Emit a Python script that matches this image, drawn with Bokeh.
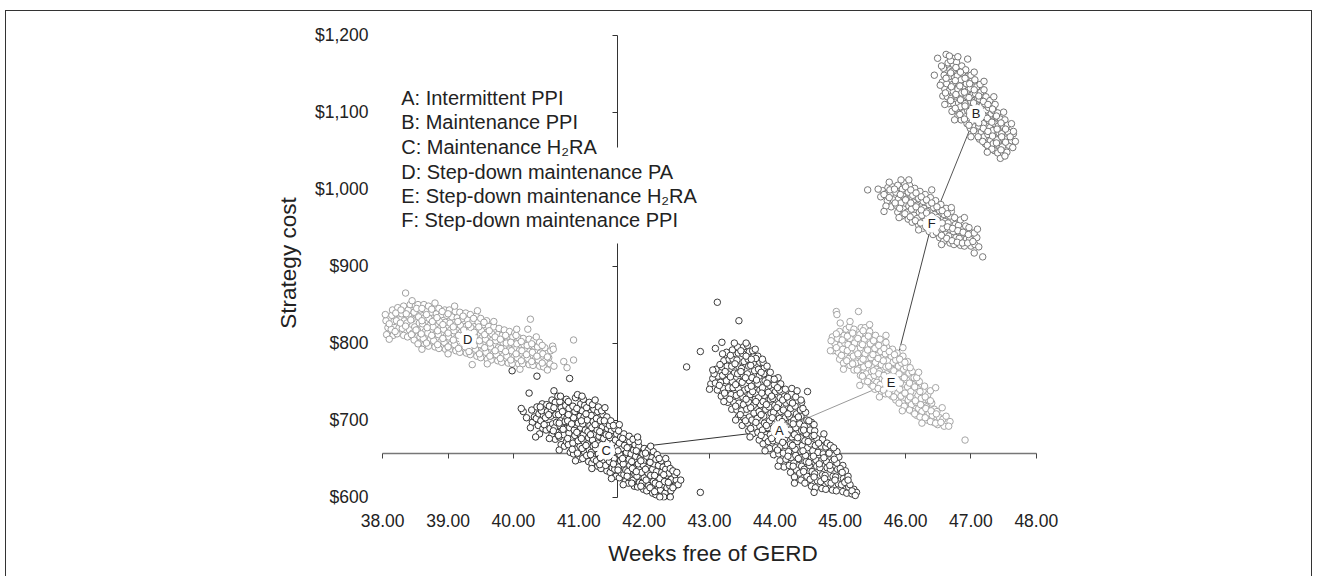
from bokeh.plotting import figure
from bokeh.models import (LinearAxis, FixedTicker, NumeralTickFormatter, Range1d, Label,
                          BoxAnnotation, CustomLabelingPolicy)
from bokeh.embed import file_html
from bokeh.resources import INLINE
from bokeh.core.properties import value

FONT = "Liberation Sans"

# ---------------- data ----------------
x_ticks = [38, 39, 40, 41, 42, 43, 44, 45, 46, 47, 48]
y_ticks = [600, 700, 800, 900, 1000, 1100, 1200]

legend_lines = ["A: Intermittent PPI", "B: Maintenance PPI", "C: Maintenance H\u2082RA",
                "D: Step-down maintenance PA", "E: Step-down maintenance H\u2082RA",
                "F: Step-down maintenance PPI"]

label_names = ["A", "B", "C", "D", "E", "F"]
label_x = [44.07, 47.08, 41.42, 39.30, 45.78, 46.40]
label_y = [687, 1098, 660, 805, 749, 955]

frontier = ["C", "A", "E", "F", "B"]

C_points = [
(40.29,697),(40.32,704),(40.28,713),
(40.38,693),(40.35,702),(40.39,708),(40.36,717),
(40.45,689),(40.42,699),(40.46,706),(40.43,712),(40.44,721),
(40.50,687),(40.53,693),(40.49,703),(40.52,711),(40.51,720),
(40.59,681),(40.56,689),(40.60,695),(40.57,705),(40.58,713),(40.55,718),(40.59,726),
(40.64,675),(40.67,684),(40.63,690),(40.66,697),(40.65,707),(40.68,714),(40.64,723),
(40.73,668),(40.70,678),(40.74,684),(40.71,693),(40.72,699),(40.69,707),(40.73,716),(40.71,724),
(40.78,666),(40.81,672),(40.77,681),(40.80,689),(40.79,698),(40.82,703),(40.78,712),(40.80,719),(40.81,727),
(40.87,658),(40.84,668),(40.88,675),(40.85,683),(40.86,690),(40.83,699),(40.87,709),(40.85,715),(40.84,724),
(40.92,656),(40.95,662),(40.91,670),(40.94,680),(40.93,687),(40.96,694),(40.92,703),(40.94,711),(40.91,718),(40.95,729),
(41.01,649),(40.98,657),(41.02,666),(40.99,673),(41.01,682),(41.03,690),(40.99,696),(41.02,705),(41.00,714),(41.03,721),
(41.06,650),(41.09,658),(41.05,663),(41.08,672),(41.07,681),(41.10,687),(41.06,695),(41.08,704),(41.05,712),(41.09,719),(41.07,727),
(41.15,646),(41.12,654),(41.16,661),(41.13,669),(41.15,677),(41.14,685),(41.17,693),(41.13,700),(41.15,710),(41.12,716),(41.16,723),
(41.20,644),(41.23,649),(41.19,658),(41.22,666),(41.21,674),(41.24,682),(41.20,690),(41.22,698),(41.19,706),(41.23,714),(41.21,720),
(41.29,640),(41.27,647),(41.30,656),(41.26,663),(41.29,670),(41.31,679),(41.28,687),(41.30,695),(41.27,702),(41.29,711),(41.30,717),
(41.34,637),(41.37,645),(41.33,651),(41.36,660),(41.35,668),(41.38,676),(41.34,684),(41.36,691),(41.33,699),(41.37,707),(41.35,712),
(41.43,634),(41.41,641),(41.44,649),(41.40,657),(41.43,664),(41.45,672),(41.42,681),(41.44,689),(41.41,696),(41.43,704),
(41.48,632),(41.51,638),(41.47,646),(41.50,655),(41.49,662),(41.52,670),(41.48,677),(41.50,686),(41.47,693),(41.49,699),
(41.57,627),(41.55,636),(41.58,642),(41.54,650),(41.57,659),(41.59,665),(41.56,674),(41.58,682),(41.55,689),
(41.62,625),(41.65,631),(41.61,639),(41.64,647),(41.63,655),(41.66,663),(41.62,670),(41.64,678),(41.61,686),
(41.71,620),(41.69,629),(41.72,635),(41.68,643),(41.71,652),(41.73,658),(41.70,667),(41.72,675),(41.69,682),
(41.76,618),(41.79,625),(41.75,633),(41.78,641),(41.77,649),(41.80,656),(41.76,665),(41.78,672),(41.77,679),
(41.85,614),(41.83,622),(41.86,629),(41.82,637),(41.85,646),(41.87,653),(41.84,661),(41.86,668),(41.83,675),
(41.90,613),(41.93,619),(41.89,627),(41.92,636),(41.91,643),(41.94,650),(41.90,659),(41.92,666),(41.91,672),
(41.99,610),(41.97,618),(42.00,625),(41.96,632),(41.99,641),(42.01,648),(41.98,656),(42.00,663),
(42.04,608),(42.07,615),(42.03,622),(42.06,631),(42.05,638),(42.08,646),(42.04,653),(42.06,661),
(42.13,605),(42.11,613),(42.14,620),(42.10,628),(42.13,636),(42.15,643),(42.12,651),(42.14,659),
(42.18,603),(42.21,610),(42.17,618),(42.20,626),(42.19,633),(42.22,641),(42.18,649),(42.20,655),
(42.27,602),(42.25,609),(42.28,616),(42.24,624),(42.27,632),(42.29,639),(42.26,647),
(42.32,605),(42.35,612),(42.31,620),(42.34,628),(42.33,636),(42.36,643),
(42.41,608),(42.39,615),(42.42,623),(42.38,631),(42.40,637),
(42.46,614),(42.49,622),(42.47,629),
(40.41,717),(40.47,694),(40.54,707),(40.61,686),(40.62,716),(40.69,680),(40.70,696),(40.75,711),
(40.76,688),(40.83,676),(40.84,707),(40.89,695),(40.90,662),(40.97,684),(40.97,715),(41.04,676),
(41.04,699),(41.11,667),(41.11,708),(41.18,681),(41.18,655),(41.25,694),(41.25,668),(41.32,642),
(41.32,685),(41.39,664),(41.39,699),(41.46,652),(41.46,680),(41.53,643),(41.53,693),(41.60,660),
(41.60,635),(41.67,676),(41.67,650),(41.74,627),(41.74,664),(41.81,646),(41.81,618),(41.88,660),
(41.88,633),(41.95,614),(41.95,647),(42.02,636),(42.02,657),(42.09,612),(42.09,645),(42.16,628),
(42.16,607),(42.23,616),(42.23,650),(42.30,629),(42.37,619),(42.44,634),
(40.20,703),(40.26,690),(40.40,682),(40.55,676),(40.68,731),(40.98,733),(41.25,726),(41.40,716),
(41.62,694),(41.90,678),(42.10,666),(42.33,650),(42.52,616),(42.30,600),(41.68,616),(41.50,624),
(41.20,637),(40.95,647),(40.70,661),
(40.15,711),(40.12,715),(40.24,735),(40.34,678),(39.98,764),(40.36,757),(40.86,754),
(40.62,738),(40.72,731),(41.05,731),(42.86,606),(42.40,600),(42.50,632),(42.44,612),
(42.24,600),(42.56,622)
]

A_points = [
(43.02,747),(43.05,754),
(43.12,739),(43.09,748),(43.13,757),(43.10,766),
(43.18,731),(43.21,741),(43.17,749),(43.20,758),(43.19,769),(43.22,777),
(43.28,723),(43.25,732),(43.29,742),(43.26,751),(43.28,760),(43.27,770),(43.30,779),(43.26,788),
(43.34,714),(43.37,723),(43.33,733),(43.36,742),(43.35,750),(43.38,761),(43.34,770),(43.36,779),(43.35,791),
(43.44,704),(43.42,713),(43.45,722),(43.41,732),(43.44,741),(43.46,750),(43.43,760),(43.45,769),(43.42,778),(43.44,787),(43.43,795),
(43.50,693),(43.53,702),(43.49,712),(43.52,720),(43.51,730),(43.54,739),(43.50,749),(43.52,758),(43.49,767),(43.53,776),(43.51,786),(43.52,795),
(43.60,686),(43.58,696),(43.61,704),(43.57,714),(43.60,723),(43.62,733),(43.59,741),(43.61,751),(43.58,760),(43.60,770),(43.59,779),(43.61,789),(43.58,797),
(43.66,682),(43.69,691),(43.65,700),(43.68,709),(43.67,719),(43.70,727),(43.66,737),(43.68,746),(43.65,755),(43.69,764),(43.67,774),(43.68,783),(43.66,790),
(43.76,674),(43.74,684),(43.77,692),(43.73,702),(43.76,711),(43.78,720),(43.75,729),(43.77,739),(43.74,747),(43.76,757),(43.75,766),(43.77,775),(43.74,783),
(43.82,669),(43.85,677),(43.81,687),(43.84,696),(43.83,705),(43.86,714),(43.82,724),(43.84,732),(43.81,742),(43.85,751),(43.83,760),(43.84,768),(43.82,775),
(43.92,663),(43.90,672),(43.93,681),(43.89,690),(43.92,699),(43.94,709),(43.91,717),(43.93,727),(43.90,736),(43.92,745),(43.91,754),(43.93,762),
(43.98,655),(44.01,664),(43.97,673),(44.00,683),(43.99,691),(44.02,701),(43.98,710),(44.00,719),(43.97,728),(44.01,737),(43.99,746),(44.00,753),
(44.08,647),(44.06,656),(44.09,666),(44.05,674),(44.08,684),(44.10,693),(44.07,702),(44.09,711),(44.06,721),(44.08,729),(44.07,739),(44.09,747),
(44.14,639),(44.17,649),(44.13,657),(44.16,667),(44.15,676),(44.18,685),(44.14,695),(44.16,703),(44.13,713),(44.17,722),(44.15,731),(44.16,740),
(44.24,632),(44.22,641),(44.25,651),(44.21,659),(44.24,669),(44.26,678),(44.23,687),(44.25,697),(44.22,705),(44.24,715),(44.23,724),(44.25,734),
(44.30,626),(44.33,635),(44.29,644),(44.32,654),(44.31,662),(44.34,672),(44.30,681),(44.32,690),(44.29,700),(44.33,708),(44.31,718),(44.32,730),
(44.40,622),(44.38,631),(44.41,640),(44.37,649),(44.40,659),(44.42,667),(44.39,677),(44.41,686),(44.38,695),(44.40,705),(44.39,713),(44.41,723),
(44.46,618),(44.49,627),(44.45,636),(44.48,646),(44.47,654),(44.50,664),(44.46,673),(44.48,682),(44.45,692),(44.49,700),(44.47,710),
(44.56,614),(44.54,623),(44.57,633),(44.53,641),(44.56,651),(44.58,660),(44.55,669),(44.57,679),(44.54,687),(44.56,697),
(44.62,612),(44.65,621),(44.61,630),(44.64,640),(44.63,648),(44.66,658),(44.62,667),(44.64,676),(44.61,686),
(44.72,611),(44.70,620),(44.73,629),(44.69,638),(44.72,648),(44.74,656),(44.71,666),(44.73,675),
(44.78,610),(44.81,619),(44.77,628),(44.80,638),(44.79,646),(44.82,656),(44.78,665),(44.80,670),
(44.88,609),(44.86,618),(44.89,627),(44.85,636),(44.88,646),(44.90,654),(44.87,662),
(44.94,608),(44.97,617),(44.93,626),(44.96,636),(44.95,644),(44.98,652),
(45.04,607),(45.02,616),(45.05,624),(45.01,633),(45.04,641),
(45.10,605),(45.13,613),(45.09,621),(45.12,627),
(45.18,604),(45.21,610),
(43.07,760),(43.15,745),(43.16,772),(43.23,735),(43.24,763),(43.31,727),(43.32,756),(43.32,784),
(43.40,718),(43.40,746),(43.39,773),(43.47,707),(43.47,735),(43.48,763),(43.48,790),(43.55,699),
(43.56,727),(43.55,755),(43.56,783),(43.63,689),(43.63,716),(43.64,744),(43.63,771),(43.71,697),
(43.71,724),(43.72,752),(43.71,780),(43.79,680),(43.79,707),(43.80,735),(43.79,762),(43.87,693),
(43.87,720),(43.88,748),(43.95,676),(43.96,703),(43.95,731),(44.04,661),(44.04,688),(44.03,716),
(44.04,742),(44.12,671),(44.11,698),(44.12,726),(44.20,653),(44.19,681),(44.20,708),(44.19,730),
(44.28,640),(44.27,667),(44.28,695),(44.27,722),(44.36,650),(44.35,677),(44.36,704),(44.44,633),
(44.43,660),(44.44,687),(44.43,715),(44.52,645),(44.51,672),(44.52,699),(44.60,626),(44.59,653),
(44.60,680),(44.68,643),(44.67,670),(44.76,624),(44.75,651),(44.84,641),(44.83,657),(44.92,622),
(44.91,649),(45.00,637),(45.07,619),(45.15,616),
(43.00,740),(43.05,765),(43.20,786),(43.38,800),(43.70,792),(43.88,770),(44.05,755),(44.26,741),
(44.60,694),(44.75,682),(44.95,659),(45.08,634),(45.25,606),(44.60,606),(44.30,618),(44.05,640),
(43.85,660),(43.62,678),(43.40,700),(43.22,724),
(43.12,853),(43.45,829),(42.86,789),(42.65,769),(43.09,793),(43.19,801),(43.56,800),
(43.64,779),(43.81,779),(43.99,753),(44.34,738),(44.50,737),(44.40,726),(44.85,667),
(44.90,664),(45.03,632),(45.12,622),(45.18,608),(45.23,602)
]

D_points = [
(38.06,811),(38.08,820),(38.05,829),
(38.16,810),(38.13,818),(38.17,828),(38.14,836),(38.15,843),
(38.22,812),(38.25,820),(38.21,829),(38.24,838),(38.23,846),
(38.32,810),(38.30,819),(38.33,829),(38.29,838),(38.32,848),
(38.38,808),(38.41,817),(38.37,826),(38.40,835),(38.39,843),(38.42,850),
(38.48,804),(38.46,813),(38.49,821),(38.45,831),(38.48,840),(38.50,848),
(38.54,799),(38.57,808),(38.53,817),(38.56,826),(38.55,834),(38.58,843),(38.54,850),
(38.64,798),(38.62,806),(38.65,815),(38.61,825),(38.64,833),(38.66,842),(38.63,850),
(38.70,796),(38.73,805),(38.69,813),(38.72,823),(38.71,832),(38.74,840),(38.70,848),
(38.80,795),(38.78,803),(38.81,812),(38.77,821),(38.80,830),(38.82,838),(38.79,846),
(38.86,793),(38.89,802),(38.85,811),(38.88,819),(38.87,828),(38.90,837),(38.86,845),
(38.96,792),(38.94,801),(38.97,809),(38.93,818),(38.96,827),(38.98,836),(38.95,843),
(39.02,791),(39.05,799),(39.01,808),(39.04,817),(39.03,826),(39.06,834),(39.02,843),
(39.12,790),(39.10,798),(39.13,807),(39.09,816),(39.12,824),(39.14,833),(39.11,841),
(39.18,788),(39.21,797),(39.17,806),(39.20,814),(39.19,823),(39.22,832),(39.18,840),
(39.28,787),(39.26,795),(39.29,804),(39.25,813),(39.28,822),(39.30,830),(39.27,839),
(39.34,785),(39.37,794),(39.33,803),(39.36,811),(39.35,820),(39.38,829),(39.34,837),
(39.44,783),(39.42,792),(39.45,801),(39.41,809),(39.44,818),(39.46,827),(39.43,835),
(39.50,781),(39.53,790),(39.49,798),(39.52,807),(39.51,816),(39.54,824),(39.50,832),
(39.60,779),(39.58,788),(39.61,796),(39.57,805),(39.60,814),(39.62,822),(39.59,829),
(39.66,778),(39.69,786),(39.65,795),(39.68,804),(39.67,812),(39.70,821),
(39.76,777),(39.74,785),(39.77,794),(39.73,803),(39.76,811),(39.78,819),
(39.82,775),(39.85,784),(39.81,793),(39.84,801),(39.83,810),(39.86,817),
(39.92,774),(39.90,783),(39.93,791),(39.89,800),(39.92,809),(39.94,815),
(39.98,773),(40.01,782),(39.97,790),(40.00,799),(39.99,808),(40.02,813),
(40.08,773),(40.06,781),(40.09,790),(40.05,799),(40.08,807),
(40.14,773),(40.17,781),(40.13,790),(40.16,798),(40.15,806),
(40.24,772),(40.22,780),(40.25,789),(40.21,797),(40.24,805),
(40.30,771),(40.33,779),(40.29,788),(40.32,796),(40.31,803),
(40.40,770),(40.38,778),(40.41,787),(40.37,795),(40.40,801),
(40.46,769),(40.49,777),(40.45,786),(40.48,794),
(40.56,773),(40.54,781),(40.57,790),
(38.10,825),(38.19,815),(38.20,839),(38.27,826),(38.28,843),(38.35,822),(38.36,838),(38.44,811),
(38.43,830),(38.51,817),(38.52,845),(38.59,812),(38.60,829),(38.60,845),(38.67,800),(38.68,820),
(38.67,837),(38.75,810),(38.76,828),(38.75,844),(38.84,798),(38.84,816),(38.83,833),(38.92,806),
(38.92,824),(38.91,841),(39.00,795),(39.00,813),(39.00,838),(39.08,804),(39.08,821),(39.16,793),
(39.16,810),(39.15,828),(39.24,800),(39.24,817),(39.23,835),(39.32,789),(39.32,807),(39.31,824),
(39.40,797),(39.40,814),(39.39,832),(39.48,786),(39.48,803),(39.47,821),(39.56,794),(39.56,811),
(39.55,827),(39.64,783),(39.64,800),(39.63,816),(39.72,790),(39.72,808),(39.80,780),(39.80,805),
(39.88,789),(39.88,810),(39.96,778),(39.96,801),(40.04,786),(40.04,810),(40.12,777),(40.12,802),
(40.20,785),(40.28,776),(40.28,799),(40.36,783),(40.44,774),(40.44,797),(40.52,782),
(38.04,837),(38.10,805),(38.45,855),(38.80,852),(39.10,848),(39.45,842),(39.70,828),(40.05,818),
(40.35,808),(40.60,796),(40.62,770),(40.10,766),(39.60,773),(39.00,786),(38.60,792),
(38.35,865),(39.37,772),(40.26,831),(40.22,818),(40.77,776),(40.82,768),(40.92,804),
(40.92,778),(40.61,792),(40.52,765)
]

E_points = [
(44.89,790),(44.92,799),(44.88,808),
(44.99,779),(44.97,788),(45.00,797),(44.96,806),(44.99,815),
(45.05,774),(45.08,783),(45.04,792),(45.07,800),(45.06,810),(45.09,818),
(45.15,771),(45.13,780),(45.16,788),(45.12,798),(45.15,806),(45.17,815),(45.14,821),
(45.21,765),(45.24,774),(45.20,783),(45.23,792),(45.22,800),(45.25,810),(45.21,818),
(45.31,758),(45.29,767),(45.32,776),(45.28,784),(45.31,794),(45.33,803),(45.30,811),(45.32,820),
(45.37,751),(45.40,760),(45.36,769),(45.39,778),(45.38,786),(45.41,796),(45.37,805),(45.39,813),(45.38,820),
(45.47,746),(45.45,755),(45.48,763),(45.44,773),(45.47,781),(45.49,790),(45.46,799),(45.48,808),(45.45,815),
(45.53,740),(45.56,749),(45.52,758),(45.55,766),(45.54,775),(45.57,784),(45.53,793),(45.55,802),(45.54,810),
(45.63,737),(45.61,746),(45.64,754),(45.60,763),(45.63,772),(45.65,781),(45.62,789),(45.64,798),(45.61,805),
(45.69,734),(45.72,742),(45.68,751),(45.71,760),(45.70,769),(45.73,777),(45.69,786),(45.71,795),(45.70,801),
(45.79,731),(45.77,740),(45.80,748),(45.76,757),(45.79,766),(45.81,775),(45.78,783),(45.80,792),
(45.85,726),(45.88,735),(45.84,743),(45.87,752),(45.86,761),(45.89,770),(45.85,778),(45.87,787),
(45.95,722),(45.93,731),(45.96,739),(45.92,748),(45.95,757),(45.97,766),(45.94,774),(45.96,783),
(46.01,717),(46.04,726),(46.00,734),(46.03,743),(46.02,752),(46.05,761),(46.01,769),(46.03,776),
(46.11,711),(46.09,720),(46.12,728),(46.08,737),(46.11,746),(46.13,755),(46.10,763),
(46.17,706),(46.20,715),(46.16,723),(46.19,732),(46.18,741),(46.21,750),(46.17,755),
(46.27,702),(46.25,711),(46.28,719),(46.24,728),(46.27,737),(46.29,744),
(46.33,700),(46.36,709),(46.32,717),(46.35,726),(46.34,733),
(46.43,697),(46.41,706),(46.44,714),(46.40,722),
(46.49,694),(46.52,703),(46.48,711),
(46.59,692),(46.57,701),
(44.94,794),(44.94,812),(45.02,784),(45.03,804),(45.10,777),(45.11,790),(45.11,809),(45.19,773),
(45.18,794),(45.19,813),(45.26,765),(45.27,786),(45.27,806),(45.34,757),(45.35,779),(45.34,798),
(45.35,816),(45.42,750),(45.43,772),(45.42,791),(45.43,809),(45.50,744),(45.51,764),(45.50,785),
(45.51,803),(45.58,741),(45.59,760),(45.58,780),(45.59,797),(45.66,739),(45.67,758),(45.66,777),
(45.67,793),(45.74,734),(45.75,752),(45.74,770),(45.75,789),(45.82,730),(45.83,746),(45.82,764),
(45.83,785),(45.90,722),(45.91,740),(45.90,760),(45.91,779),(45.98,718),(45.99,735),(45.98,755),
(45.99,775),(46.06,713),(46.07,730),(46.06,748),(46.07,768),(46.14,708),(46.15,725),(46.14,743),
(46.22,704),(46.23,720),(46.22,737),(46.30,703),(46.31,715),(46.30,730),(46.38,698),(46.39,712),
(46.38,725),(46.46,696),(46.47,708),(46.54,697),
(44.86,803),(45.00,826),(45.15,828),(45.45,824),(45.70,810),(45.96,794),(46.20,762),(46.38,738),
(46.56,716),(46.68,698),(46.25,696),(45.95,712),(45.60,730),(45.30,745),(45.05,766),
(44.94,841),(45.28,841),(44.95,837),(44.85,790),(46.91,674),(46.46,742),(46.66,692),(46.62,705)
]

F_points = [
(45.62,990),(45.65,998),
(45.72,985),(45.70,994),(45.73,1002),
(45.78,977),(45.81,986),(45.77,994),(45.80,1003),
(45.88,970),(45.86,979),(45.89,987),(45.85,996),(45.88,1005),
(45.94,965),(45.97,974),(45.93,982),(45.96,991),(45.95,1000),(45.98,1008),
(46.04,961),(46.02,970),(46.05,978),(46.01,987),(46.04,996),(46.06,1005),
(46.10,957),(46.13,966),(46.09,974),(46.12,983),(46.11,992),(46.14,1001),
(46.20,953),(46.18,962),(46.21,970),(46.17,979),(46.20,988),(46.22,997),
(46.26,949),(46.29,958),(46.25,966),(46.28,975),(46.27,984),(46.30,993),
(46.36,945),(46.34,954),(46.37,962),(46.33,971),(46.36,980),(46.38,989),
(46.42,941),(46.45,950),(46.41,958),(46.44,967),(46.43,976),(46.46,985),
(46.52,937),(46.50,946),(46.53,954),(46.49,963),(46.52,972),(46.54,980),
(46.58,932),(46.61,941),(46.57,949),(46.60,958),(46.59,967),(46.62,975),
(46.68,930),(46.66,939),(46.69,947),(46.65,956),(46.68,965),(46.70,971),
(46.74,928),(46.77,937),(46.73,945),(46.76,954),(46.75,963),
(46.84,927),(46.82,936),(46.85,944),(46.81,953),(46.84,960),
(46.90,926),(46.93,935),(46.89,943),(46.92,952),
(47.00,926),(46.98,935),(47.01,943),(46.97,950),
(47.06,928),(47.09,937),(47.05,943),
(45.67,993),(45.75,989),(45.76,999),(45.84,982),(45.83,1000),(45.91,975),(45.92,993),(45.99,968),
(46.00,986),(46.00,1003),(46.07,964),(46.08,982),(46.08,999),(46.15,959),(46.16,977),(46.16,995),
(46.23,956),(46.24,973),(46.24,990),(46.31,951),(46.32,969),(46.32,986),(46.39,948),(46.40,965),
(46.40,982),(46.47,944),(46.48,960),(46.48,977),(46.55,940),(46.56,956),(46.56,972),(46.63,936),
(46.64,951),(46.64,968),(46.71,933),(46.72,949),(46.79,931),(46.80,946),(46.87,930),(46.88,944),
(46.95,930),(46.96,941),(47.03,932),
(45.58,1000),(45.75,1009),(46.05,1012),(46.40,999),(46.70,976),(46.90,963),(47.10,948),(47.12,925),
(46.55,928),(46.20,947),(45.90,963),(45.70,978),
(45.42,999),(45.67,971),(45.93,1012),(47.18,912),(47.05,917)
]

B_points = [
(46.57,1121),(46.60,1130),(46.56,1139),(46.59,1148),(46.58,1157),
(46.66,1111),(46.64,1120),(46.67,1128),(46.63,1137),(46.66,1146),(46.68,1155),(46.65,1164),
(46.71,1101),(46.74,1110),(46.70,1118),(46.73,1127),(46.72,1136),(46.75,1145),(46.71,1153),(46.73,1162),(46.72,1170),
(46.80,1095),(46.78,1104),(46.81,1112),(46.77,1121),(46.80,1130),(46.82,1139),(46.79,1147),(46.81,1156),(46.78,1165),
(46.85,1090),(46.88,1099),(46.84,1107),(46.87,1116),(46.86,1125),(46.89,1134),(46.85,1142),(46.87,1151),(46.86,1160),
(46.94,1085),(46.92,1094),(46.95,1102),(46.91,1111),(46.94,1120),(46.96,1129),(46.93,1137),(46.95,1146),(46.92,1155),
(46.99,1079),(47.02,1088),(46.98,1096),(47.01,1105),(47.00,1114),(47.03,1123),(46.99,1131),(47.01,1140),(47.00,1148),
(47.08,1072),(47.06,1081),(47.09,1089),(47.05,1098),(47.08,1107),(47.10,1116),(47.07,1124),(47.09,1133),(47.06,1142),
(47.13,1065),(47.16,1074),(47.12,1082),(47.15,1091),(47.14,1100),(47.17,1109),(47.13,1117),(47.15,1126),(47.14,1136),
(47.22,1059),(47.20,1068),(47.23,1076),(47.19,1085),(47.22,1094),(47.24,1103),(47.21,1111),(47.23,1120),(47.20,1129),
(47.27,1054),(47.30,1063),(47.26,1071),(47.29,1080),(47.28,1089),(47.31,1098),(47.27,1106),(47.29,1115),
(47.36,1050),(47.34,1059),(47.37,1067),(47.33,1076),(47.36,1085),(47.38,1094),(47.35,1102),(47.37,1110),
(47.41,1047),(47.44,1056),(47.40,1064),(47.43,1073),(47.42,1082),(47.45,1091),(47.41,1099),
(47.50,1046),(47.48,1055),(47.51,1063),(47.47,1072),(47.50,1081),(47.52,1090),
(47.55,1048),(47.58,1057),(47.54,1065),(47.57,1074),(47.56,1083),
(47.64,1054),(47.62,1063),(47.65,1072),
(46.61,1125),(46.62,1144),(46.69,1115),(46.70,1133),(46.69,1151),(46.69,1167),(46.76,1105),(46.77,1123),
(46.76,1141),(46.77,1158),(46.83,1097),(46.84,1116),(46.83,1134),(46.84,1152),(46.90,1091),(46.91,1108),
(46.90,1126),(46.91,1144),(46.97,1083),(46.98,1101),(46.97,1119),(46.98,1137),(47.04,1076),(47.05,1094),
(47.04,1112),(47.05,1129),(47.11,1068),(47.12,1086),(47.11,1104),(47.12,1121),(47.18,1062),(47.19,1079),
(47.18,1097),(47.19,1114),(47.25,1057),(47.26,1075),(47.25,1092),(47.26,1110),(47.32,1052),(47.33,1069),
(47.32,1087),(47.33,1104),(47.39,1060),(47.40,1078),(47.39,1095),(47.46,1051),(47.47,1068),(47.46,1086),
(47.53,1061),(47.53,1078),(47.60,1068),
(46.53,1135),(46.55,1160),(46.62,1175),(46.80,1172),(47.05,1152),(47.20,1140),(47.35,1120),(47.50,1100),
(47.62,1085),(47.68,1062),(47.45,1040),(47.25,1048),(47.00,1068),(46.75,1090),(46.60,1110),
(46.49,1170),(46.44,1148),(46.67,1173),(46.95,1169),(47.52,1043),(47.65,1075)
]

# ---------------- figure ----------------
p = figure(width=1307, height=566,
           x_range=Range1d(37.8898, 48.2173), y_range=Range1d(595.46, 1212.59),
           output_backend="svg", toolbar_location=None,
           min_border_left=369, min_border_right=263, min_border_top=14, min_border_bottom=77)
p.outline_line_color = None
p.grid.visible = False
p.background_fill_color = "white"
p.border_fill_color = "white"
p.styles = {"border-top": "1px solid #333", "border-left": "1px solid #333",
            "border-right": "1px solid #333", "margin-top": "10px", "margin-left": "5px"}

xa = p.xaxis[0]
xa.ticker = FixedTicker(ticks=x_ticks)
xa.formatter = NumeralTickFormatter(format="0.00")
xa.axis_line_color = None
xa.major_tick_line_color = None
xa.minor_tick_line_color = None
xa.major_tick_out = 0
xa.major_tick_in = 0
xa.major_label_standoff = 13
xa.major_label_text_font = FONT
xa.major_label_text_font_size = "17.5px"
xa.major_label_text_color = "#222222"
xa.axis_label = "Weeks free of GERD"
xa.axis_label_text_font = FONT
xa.axis_label_text_font_size = "22.5px"
xa.axis_label_text_font_style = "normal"
xa.axis_label_text_color = "#222222"
xa.axis_label_standoff = 11

ya = p.yaxis[0]
ya.ticker = FixedTicker(ticks=y_ticks)
ya.formatter = NumeralTickFormatter(format="$0,0")
ya.axis_line_color = None
ya.major_tick_line_color = None
ya.minor_tick_line_color = None
ya.major_tick_out = 0
ya.major_tick_in = 0
ya.major_label_standoff = 7
ya.major_label_text_font = FONT
ya.major_label_text_font_size = "17.5px"
ya.major_label_text_color = "#222222"
ya.axis_label = "Strategy cost"
ya.axis_label_text_font = FONT
ya.axis_label_text_font_size = "22.5px"
ya.axis_label_text_font_style = "normal"
ya.axis_label_text_color = "#222222"
ya.axis_label_standoff = 11

hide_all = "for (const i of indices) { indices.unset(i) }\nreturn indices"

x_cross = LinearAxis(fixed_location=657, bounds=(38, 48), ticker=FixedTicker(ticks=x_ticks),
                     axis_line_color="#777777", axis_line_width=1.6,
                     major_tick_in=5, major_tick_out=0, major_tick_line_color="#444444",
                     minor_tick_line_color=None,
                     major_label_policy=CustomLabelingPolicy(code=hide_all),
                     level="underlay")
p.add_layout(x_cross, "above")
y_cross = LinearAxis(fixed_location=41.59, bounds=(600, 1200), ticker=FixedTicker(ticks=y_ticks),
                     axis_line_color="#333333", axis_line_width=1,
                     major_tick_in=5, major_tick_out=0, major_tick_line_color="#333333",
                     minor_tick_line_color=None,
                     major_label_policy=CustomLabelingPolicy(code=hide_all),
                     level="underlay")
p.add_layout(y_cross, "right")

pos = {n: (x, y) for n, x, y in zip(label_names, label_x, label_y)}
seg_colors = ["#333333", "#9a9a9a", "#444444", "#555555"]
p.segment(x0=[pos[a][0] for a in frontier[:-1]], y0=[pos[a][1] for a in frontier[:-1]],
          x1=[pos[b][0] for b in frontier[1:]], y1=[pos[b][1] for b in frontier[1:]],
          line_color=seg_colors, line_width=1)

def cloud(points, color):
    xs = [pt[0] for pt in points]
    ys = [pt[1] for pt in points]
    p.scatter(xs, ys, marker="circle", size=6.5, fill_color="white",
              line_color=color, line_width=1)

cloud(D_points, "#a0a0a0")
cloud(E_points, "#a6a6a6")
cloud(F_points, "#7a7a7a")
cloud(B_points, "#757575")
cloud(C_points, "#333333")
cloud(A_points, "#3c3c3c")

p.scatter(label_x, label_y, marker="circle", size=17, fill_color="white", line_color="white")
p.text(label_x, label_y, text=label_names, text_font=value(FONT), text_font_size="13px",
       text_align="center", text_baseline="middle", text_color="#222222")

p.add_layout(BoxAnnotation(left=41.45, right=41.75, bottom=929.4, top=1054.1,
                           fill_color="white", fill_alpha=1.0, line_color=None))

legend_y = [1118.1, 1086.6, 1054.1, 1022.9, 991.7, 960.5]
for txt, yy in zip(legend_lines, legend_y):
    p.add_layout(Label(x=38.283, y=yy, text=txt, text_font=FONT, text_font_size="20px",
                       text_baseline="middle", text_align="left", text_color="#222222",
                       background_fill_color="white"))

open("out.html", "w").write(file_html(p, INLINE))
